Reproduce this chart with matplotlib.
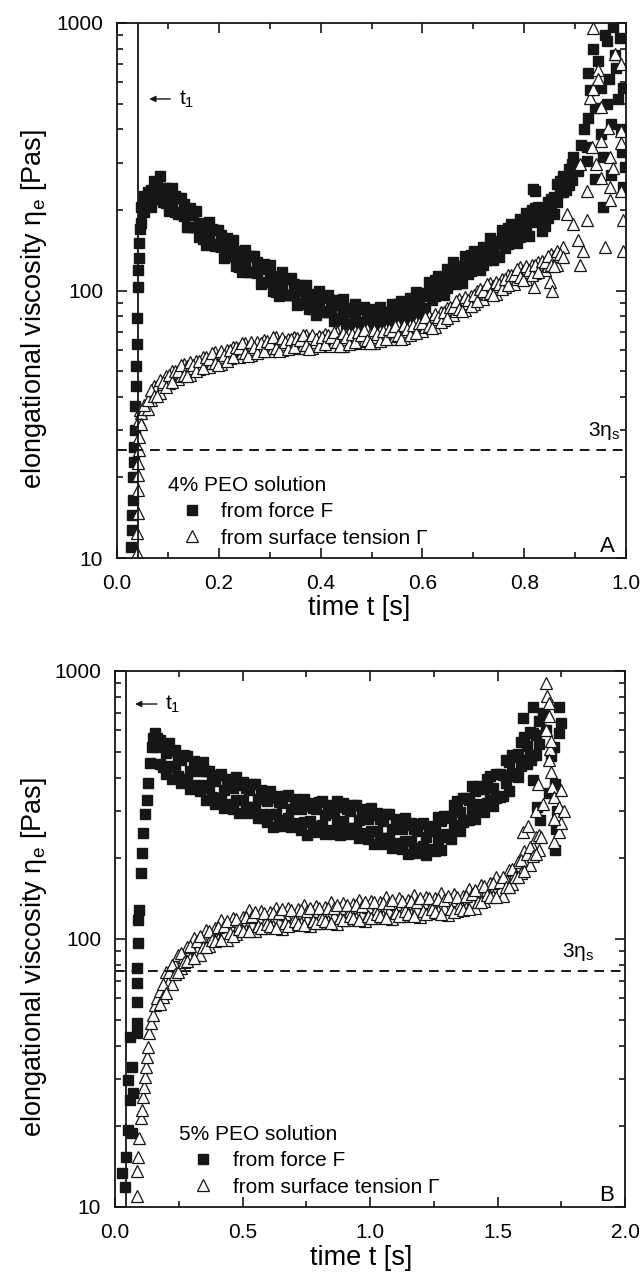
import matplotlib
matplotlib.use("Agg")
import matplotlib.pyplot as plt
from matplotlib.ticker import LogLocator, NullFormatter, MultipleLocator, FormatStrFormatter
import numpy as np

plt.rcParams['font.family'] = ['Liberation Sans', 'DejaVu Sans']
plt.rcParams['mathtext.fontset'] = 'custom'
plt.rcParams['mathtext.rm'] = 'Liberation Sans'
plt.rcParams['mathtext.it'] = 'Liberation Sans:italic'

# ================= panel A : 4% PEO solution =================
# steep rise right at t1
a_sq_rise_t = [0.028, 0.029, 0.030, 0.031, 0.032, 0.033, 0.034, 0.035, 0.036, 0.037,
               0.038, 0.039, 0.040, 0.041, 0.042, 0.043, 0.044, 0.045]
a_sq_rise_v = [11, 12.7, 14.5, 16.5, 20, 22.8, 26, 30, 37, 44,
               52, 63, 79, 103, 119, 132, 150, 170]
a_tri_rise_t = [0.040, 0.040, 0.041, 0.041, 0.042, 0.042, 0.043, 0.043, 0.044, 0.045]
a_tri_rise_v = [10.4, 12.4, 14.7, 17.9, 20.5, 22.6, 25.4, 28.3, 32.7, 35.6]

# frame times of the main part of the record
a_frames = [0.048, 0.054, 0.060, 0.066, 0.072, 0.078, 0.084, 0.090, 0.096, 0.102,
            0.108, 0.114, 0.120, 0.126, 0.132, 0.138, 0.144, 0.150, 0.156, 0.162,
            0.168, 0.174, 0.180, 0.186, 0.192, 0.198, 0.204, 0.210, 0.216, 0.222,
            0.228, 0.234, 0.240, 0.246, 0.252, 0.258, 0.264, 0.270, 0.276, 0.282,
            0.288, 0.294, 0.300, 0.306, 0.312, 0.318, 0.324, 0.330, 0.336, 0.342,
            0.348, 0.354, 0.360, 0.366, 0.372, 0.378, 0.384, 0.390, 0.396, 0.402,
            0.408, 0.414, 0.420, 0.426, 0.432, 0.438, 0.444, 0.450, 0.456, 0.462,
            0.468, 0.474, 0.480, 0.486, 0.492, 0.498, 0.504, 0.510, 0.516, 0.522,
            0.528, 0.534, 0.540, 0.546, 0.552, 0.558, 0.564, 0.570, 0.576, 0.582,
            0.588, 0.594, 0.600, 0.606, 0.612, 0.618, 0.624, 0.630, 0.636, 0.642,
            0.648, 0.654, 0.660, 0.666, 0.672, 0.678, 0.684, 0.690, 0.696, 0.702,
            0.708, 0.714, 0.720, 0.726, 0.732, 0.738, 0.744, 0.750, 0.756, 0.762,
            0.768, 0.774, 0.780, 0.786, 0.792, 0.798, 0.804, 0.810, 0.816, 0.822,
            0.828, 0.834, 0.840, 0.846, 0.852, 0.858, 0.864, 0.870, 0.876, 0.882,
            0.888, 0.894]

# two readings per frame (the band is noisy and thick)
a_sq_band1 = [205, 226, 211, 205, 219, 252, 269, 241, 212, 199,
              214, 225, 222, 221, 190, 172, 173, 191, 199, 177,
              156, 148, 160, 170, 168, 168, 146, 132, 134, 148,
              155, 139, 122, 117, 125, 134, 134, 134, 116, 106,
              108, 120, 125, 112, 99, 95, 103, 110, 110, 111,
              96, 88, 89, 100, 105, 95, 85, 81, 88, 94,
              95, 96, 83, 77, 78, 88, 93, 84, 75, 72,
              79, 85, 86, 87, 76, 70, 73, 82, 87, 80,
              73, 71, 78, 86, 89, 91, 81, 77, 80, 91,
              99, 92, 86, 85, 95, 105, 109, 113, 102, 96,
              102, 118, 128, 118, 109, 107, 120, 131, 136, 141,
              126, 119, 125, 144, 157, 146, 134, 133, 149, 164,
              171, 177, 159, 150, 158, 181, 195, 180, 198, 235,
              181, 191, 200, 215, 199, 194, 214, 257, 269, 265,
              248, 258]
a_sq_band2 = [179, 197, 233, 237, 257, 228, 233, 215, 242, 228,
              242, 197, 194, 193, 210, 199, 203, 173, 173, 158,
              179, 169, 181, 149, 147, 147, 161, 153, 157, 134,
              134, 124, 140, 134, 142, 117, 117, 117, 128, 123,
              126, 108, 109, 100, 113, 109, 117, 96, 96, 96.5,
              106, 101, 105, 90, 91, 85, 97, 93, 100, 83,
              83, 84, 92, 88, 92, 79, 81, 75, 86, 83,
              89, 74, 75, 76, 84, 81, 85, 74, 76, 71,
              83, 81, 89, 75, 77, 80, 90, 88, 94, 83,
              86, 82, 98, 97, 108, 92, 95, 99, 112, 111,
              120, 106, 111, 106, 124, 122, 135, 115, 118, 123,
              139, 137, 146, 130, 136, 130, 153, 152, 169, 144,
              149, 155, 175, 174, 185, 163, 169, 160, 200, 204,
              205, 167, 174, 187, 219, 224, 251, 233, 233, 237,
              284, 296]

a_tri_band1 = [34.7, 36, 36.1, 38.8, 44, 43.9, 41.4, 44.6, 47.8, 45.1,
               49.9, 48, 46.6, 48, 53, 52, 48.4, 51.5, 54.6, 50.9,
               56.2, 54, 51.8, 53.4, 58.8, 57.1, 53.1, 56.4, 59.8, 55.7,
               61.4, 59, 56.5, 58.2, 63.6, 61.7, 57.3, 60.4, 64, 59.5,
               65.1, 62.5, 59.4, 61.1, 66.8, 64.3, 59.7, 62.9, 66, 61.4,
               67.2, 64, 60.8, 62.6, 68.4, 65.8, 61.1, 64.4, 67.6, 62.4,
               68.8, 65.5, 62.2, 64, 70, 67.3, 62, 65.8, 69.2, 63.8,
               70.4, 67, 63.7, 65, 71.6, 68.9, 63.9, 67.3, 70.7, 65.8,
               71.9, 69, 65.6, 67.4, 74.2, 71.4, 66.3, 70.3, 74.4, 69.1,
               76.1, 73, 70.3, 72.8, 80.6, 78.5, 73.3, 78.2, 83.2, 77.8,
               86.1, 83.5, 80.8, 83.9, 93.3, 90.8, 84.6, 90.1, 95.7, 89.3,
               99.8, 97, 93.1, 97, 107, 104, 96.8, 104, 110, 103,
               114, 110, 106, 110, 122, 118, 110, 117, 125, 116,
               128, 124, 119, 123, 137, 134, 125, 135, 146]
a_tri_band2 = [31.7, 37.4, 38.8, 42.4, 40.3, 40.4, 46.2, 45.5, 43.7, 48.4,
               45.6, 49.9, 50, 52.5, 48.5, 47.9, 54.1, 52.5, 49.9, 54.6,
               51.4, 56.2, 55.6, 58.3, 53.8, 52.6, 59.3, 57.6, 54.6, 59.7,
               56.2, 61.4, 60.7, 63.6, 58.2, 56.9, 64, 61.6, 58.4, 63.9,
               59.5, 65, 63.8, 66.8, 61.1, 59.2, 66.7, 64.1, 60.3, 65.9,
               61.4, 66.6, 65.3, 68.4, 62.6, 60.6, 68.3, 65.7, 61.8, 67,
               62.9, 68.1, 66.8, 70, 64, 62, 69.3, 67.2, 63.2, 68.5,
               64.3, 69.7, 68.3, 71, 65.5, 63.5, 71.4, 68.7, 64.6, 70.6,
               65.8, 71.8, 70.4, 73.7, 67.9, 65.8, 74, 71.7, 67.9, 74.2,
               69.6, 75.9, 75.5, 79.5, 73.7, 72.4, 81.9, 79.8, 76, 83.4,
               78.7, 86.8, 86.7, 91.7, 85.4, 83.7, 94.5, 91.9, 87.4, 95.8,
               91.2, 101, 100, 106, 98, 95.9, 108, 106, 101, 110,
               105, 114, 114, 120, 112, 109, 123, 119, 114, 125,
               117, 129, 128, 135, 125, 123, 140, 137, 133]

# scattered end of the record (filament break-up)
a_sq_tail_t = [0.818, 0.895, 0.905, 0.912, 0.918, 0.923, 0.923, 0.925, 0.925, 0.930,
               0.935, 0.940, 0.945, 0.950, 0.950, 0.955, 0.955, 0.958, 0.962, 0.962,
               0.966, 0.970, 0.975, 0.978, 0.980, 0.985, 0.988, 0.990, 0.995, 0.995,
               0.998, 0.992, 0.970, 0.940]
a_sq_tail_v = [240, 315, 280, 350, 400, 305, 345, 440, 650, 560,
               800, 480, 720, 570, 385, 315, 205, 900, 860, 500,
               620, 420, 970, 760, 680, 520, 880, 400, 570, 243,
               290, 330, 270, 260]
a_tri_tail_t = [0.820, 0.850, 0.855, 0.885, 0.895, 0.905, 0.910, 0.910, 0.915, 0.923,
                0.923, 0.930, 0.933, 0.935, 0.935, 0.942, 0.945, 0.945, 0.950, 0.950,
                0.950, 0.958, 0.965, 0.968, 0.968, 0.968, 0.975, 0.978, 0.990, 0.990,
                0.990, 0.990, 0.995, 0.995]
a_tri_tail_v = [103, 108, 100, 194, 178, 154, 296, 125, 141, 236,
                183, 525, 345, 960, 565, 296, 670, 615, 485, 362,
                264, 145, 405, 315, 243, 217, 288, 765, 700, 395,
                355, 236, 183, 141]

# ================= panel B : 5% PEO solution =================
b_sq_rise_t = [0.039, 0.026, 0.045, 0.052, 0.065, 0.059, 0.072, 0.052, 0.065, 0.059,
               0.085, 0.085, 0.085, 0.085, 0.085, 0.092, 0.092, 0.094,
               0.100, 0.105, 0.110, 0.118, 0.125, 0.130, 0.137, 0.145, 0.150, 0.157,
               0.164, 0.170]
b_sq_rise_v = [11.9, 13.4, 15.4, 19.4, 18.9, 25, 26.6, 29.8, 33.3, 43,
               44.6, 48.6, 58, 68.6, 78, 96.6, 118, 128,
               176, 210, 248, 293, 330, 381, 453, 520, 560, 585,
               560, 520]
b_tri_rise_t = [0.087, 0.087, 0.090, 0.095, 0.100, 0.105, 0.108, 0.112, 0.116, 0.120,
                0.124, 0.128, 0.135, 0.142, 0.150, 0.157, 0.165]
b_tri_rise_v = [11, 13.6, 15.4, 18.1, 21.5, 23, 25.7, 28, 30.6, 33.3,
                36.3, 39.5, 44.6, 48.6, 52, 56.5, 60]

b_frames = [0.176, 0.188, 0.200, 0.212, 0.224, 0.236, 0.248, 0.260, 0.272, 0.284,
            0.296, 0.308, 0.320, 0.332, 0.344, 0.356, 0.368, 0.380, 0.392, 0.404,
            0.416, 0.428, 0.440, 0.452, 0.464, 0.476, 0.488, 0.500, 0.512, 0.524,
            0.536, 0.548, 0.560, 0.572, 0.584, 0.596, 0.608, 0.620, 0.632, 0.644,
            0.656, 0.668, 0.680, 0.692, 0.704, 0.716, 0.728, 0.740, 0.752, 0.764,
            0.776, 0.788, 0.800, 0.812, 0.824, 0.836, 0.848, 0.860, 0.872, 0.884,
            0.896, 0.908, 0.920, 0.932, 0.944, 0.956, 0.968, 0.980, 0.992, 1.004,
            1.016, 1.028, 1.040, 1.052, 1.064, 1.076, 1.088, 1.100, 1.112, 1.124,
            1.136, 1.148, 1.160, 1.172, 1.184, 1.196, 1.208, 1.220, 1.232, 1.244,
            1.256, 1.268, 1.280, 1.292, 1.304, 1.316, 1.328, 1.340, 1.352, 1.364,
            1.376, 1.388, 1.400, 1.412, 1.424, 1.436, 1.448, 1.460, 1.472, 1.484,
            1.496, 1.508, 1.520, 1.532, 1.544, 1.556, 1.568, 1.580, 1.592, 1.604,
            1.616, 1.628, 1.640, 1.652, 1.664]

b_sq_band1 = [554, 437, 494, 539, 394, 437, 477, 383, 486, 395,
              424, 463, 369, 425, 458, 331, 365, 400, 320, 410,
              336, 361, 394, 315, 365, 401, 295, 330, 365, 296,
              380, 310, 333, 360, 284, 327, 357, 262, 293, 324,
              264, 342, 282, 306, 334, 265, 305, 333, 245, 276,
              308, 251, 325, 267, 289, 315, 252, 295, 327, 244,
              276, 306, 246, 317, 259, 279, 305, 243, 281, 309,
              227, 254, 281, 227, 292, 239, 257, 280, 223, 258,
              283, 208, 233, 257, 209, 269, 222, 241, 265, 215,
              254, 285, 215, 247, 282, 236, 315, 267, 298, 336,
              277, 331, 371, 280, 320, 362, 299, 394, 331, 367,
              412, 340, 410, 466, 357, 415, 477, 403, 542, 465,
              525, 594, 486, 578, 650]
b_sq_band2 = [450, 529, 414, 442, 504, 509, 407, 465, 396, 483,
              362, 376, 447, 356, 375, 424, 425, 340, 389, 335,
              411, 308, 320, 382, 306, 329, 377, 384, 311, 360,
              310, 380, 284, 292, 344, 274, 293, 336, 341, 276,
              321, 279, 345, 261, 271, 320, 255, 273, 314, 322,
              262, 305, 265, 327, 246, 256, 305, 247, 268, 312,
              322, 260, 300, 259, 317, 238, 248, 294, 236, 253,
              290, 296, 239, 276, 238, 292, 219, 228, 270, 216,
              232, 266, 271, 219, 254, 219, 271, 205, 216, 261,
              213, 234, 275, 288, 240, 287, 257, 327, 254, 273,
              336, 277, 304, 358, 373, 308, 364, 322, 405, 313,
              335, 412, 343, 382, 457, 484, 407, 490, 442, 569,
              448, 482, 589, 484, 532]

b_tri_band1 = [64, 61, 75, 70, 68, 80, 87, 78, 86, 93,
               85, 101, 91, 87, 101, 108, 94, 103, 110, 100,
               118, 105, 99, 113, 120, 104, 113, 121, 108, 128,
               114, 107, 121, 127, 110, 119, 126, 112, 131, 116,
               109, 124, 130, 113, 121, 129, 115, 134, 119, 112,
               127, 133, 115, 124, 132, 117, 137, 122, 114, 130,
               136, 118, 127, 135, 120, 140, 124, 117, 132, 139,
               120, 130, 137, 122, 143, 127, 119, 135, 142, 122,
               132, 140, 124, 146, 129, 121, 137, 144, 125, 134,
               142, 127, 148, 131, 123, 140, 147, 127, 136, 145,
               130, 154, 137, 131, 150, 159, 139, 152, 162, 145,
               171, 152, 145, 168, 181, 160, 177, 193, 177, 213,
               194, 189, 220, 240, 214]
b_tri_band2 = [57, 68, 63, 75, 80, 74, 75, 89, 82, 83,
               94, 85, 98, 103, 93, 93, 107, 99, 98, 111,
               99, 112, 117, 105, 103, 119, 109, 107, 121, 107,
               122, 126, 112, 110, 125, 114, 112, 125, 110, 125,
               129, 115, 112, 128, 117, 114, 128, 113, 127, 131,
               117, 115, 131, 119, 117, 131, 115, 130, 134, 120,
               118, 134, 122, 120, 134, 118, 133, 137, 122, 120,
               137, 124, 122, 136, 120, 136, 140, 125, 122, 139,
               127, 124, 139, 122, 138, 142, 127, 124, 142, 129,
               126, 141, 124, 140, 145, 129, 126, 144, 131, 128,
               145, 129, 147, 153, 138, 137, 158, 146, 144, 162,
               143, 163, 171, 156, 156, 182, 170, 171, 197, 179,
               208, 221, 204, 207, 244]

b_sq_tail_t = [1.600, 1.640, 1.630, 1.640, 1.655, 1.667, 1.690, 1.710, 1.725, 1.725,
               1.730, 1.740, 1.740, 1.750, 1.680, 1.700, 1.735, 1.720]
b_sq_tail_v = [670, 735, 465, 393, 312, 279, 600, 480, 380, 215,
               257, 735, 585, 640, 700, 350, 300, 520]
b_tri_tail_t = [1.600, 1.620, 1.650, 1.660, 1.670, 1.680, 1.690, 1.695, 1.700, 1.700,
                1.705, 1.700, 1.710, 1.710, 1.715, 1.720, 1.720, 1.730, 1.740, 1.740,
                1.750, 1.750, 1.760, 1.690, 1.720]
b_tri_tail_v = [250, 265, 300, 380, 240, 320, 900, 810, 760, 680,
                510, 465, 550, 420, 370, 340, 230, 290, 310, 250,
                270, 360, 300, 600, 280]

eta_s3 = [25.4, 76]      # 3 x solvent viscosity, Pa s
t1 = [0.041, 0.043]      # s

n_tri_a = len(a_tri_band1)
a_sq_t = a_sq_rise_t + a_frames + a_frames + a_sq_tail_t
a_sq_v = a_sq_rise_v + a_sq_band1 + a_sq_band2 + a_sq_tail_v
a_tri_t = a_tri_rise_t + a_frames[:n_tri_a] + a_frames[:n_tri_a] + a_tri_tail_t
a_tri_v = a_tri_rise_v + a_tri_band1 + a_tri_band2 + a_tri_tail_v
b_sq_t = b_sq_rise_t + b_frames + b_frames + b_sq_tail_t
b_sq_v = b_sq_rise_v + b_sq_band1 + b_sq_band2 + b_sq_tail_v
b_tri_t = b_tri_rise_t + b_frames + b_frames + b_tri_tail_t
b_tri_v = b_tri_rise_v + b_tri_band1 + b_tri_band2 + b_tri_tail_v

fig = plt.figure(figsize=(6.44, 12.86), dpi=100)
ax_a = fig.add_axes([117 / 644, 1 - 558 / 1286, 509 / 644, 535 / 1286])
ax_b = fig.add_axes([115 / 644, 1 - 1207 / 1286, 510 / 644, 536 / 1286])

panels = [
    (ax_a, a_sq_t, a_sq_v, a_tri_t, a_tri_v, 1.0, 0.2, 0.1, "4% PEO solution", "A",
     0.079, (0.475, -0.069), (-0.133, 0.465)),
    (ax_b, b_sq_t, b_sq_v, b_tri_t, b_tri_v, 2.0, 0.5, 0.25, "5% PEO solution", "B",
     0.106, (0.482, -0.071), (-0.129, 0.466)),
]

for i, (ax, st, sv, tt, tv, xmax, major, minor, title, letter, legx, xlab, ylab) in enumerate(panels):
    ax.plot(st, sv, ls="none", marker="s", ms=7, color="#161616", mec="#161616",
            label="from force F")
    ax.plot(tt, tv, ls="none", marker="^", ms=8, mfc="white", mec="#161616", mew=0.9,
            label="from surface tension \u0393")
    ax.axvline(t1[i], color="#161616", lw=1.3)
    ax.axhline(eta_s3[i], color="#161616", lw=1.4, ls=(0, (5, 3.5)))

    ax.set_yscale("log")
    ax.set_xlim(0, xmax)
    ax.set_ylim(10, 1000)
    ax.set_yticks([10, 100, 1000])
    ax.set_yticklabels(["10", "100", "1000"])
    ax.yaxis.set_minor_locator(LogLocator(base=10, subs=np.arange(2, 10)))
    ax.yaxis.set_minor_formatter(NullFormatter())
    ax.xaxis.set_major_locator(MultipleLocator(major))
    ax.xaxis.set_minor_locator(MultipleLocator(minor))
    ax.xaxis.set_major_formatter(FormatStrFormatter("%.1f"))
    ax.tick_params(which="both", direction="in", top=True, right=True,
                   labelsize=15, width=1.2, color="#161616")
    ax.tick_params(axis="x", pad=11.5)
    ax.tick_params(axis="y", pad=10)
    ax.tick_params(which="major", length=7)
    ax.tick_params(which="minor", length=4)
    for s in ax.spines.values():
        s.set_linewidth(1.3)
        s.set_color("#161616")

    ax.set_xlabel("time t [s]", fontsize=19.5)
    ax.set_ylabel("elongational viscosity \u03b7$_\\mathregular{e}$ [Pas]", fontsize=19.5)
    ax.xaxis.set_label_coords(*xlab)
    ax.yaxis.set_label_coords(*ylab)

    leg = ax.legend(loc="lower left", bbox_to_anchor=(legx, 0.0), frameon=False,
                    title=title, title_fontsize=15, fontsize=15, numpoints=1,
                    handlelength=2.3, handletextpad=0.25, labelspacing=0.35,
                    borderpad=0.0, alignment="left")
    leg.legend_handles[0].set_markersize(6.5)

    ax.text(0.963 * xmax, 11.0, letter, fontsize=16, ha="center", va="center")

    ax.text(0.925 * xmax if i == 0 else 0.876 * xmax, eta_s3[i] * 1.07,
            "3\u03b7$_\\mathregular{s}$", fontsize=15, ha="left", va="bottom")

# t1 arrows
ax_a.annotate("", xy=(0.058, 520), xytext=(0.11, 520),
              arrowprops=dict(arrowstyle="-|>", color="#161616", lw=1, mutation_scale=9))
ax_a.text(0.122, 520, "t$_\\mathregular{1}$", fontsize=15, va="center")
ax_b.annotate("", xy=(0.068, 753), xytext=(0.175, 753),
              arrowprops=dict(arrowstyle="-|>", color="#161616", lw=1, mutation_scale=9))
ax_b.text(0.195, 753, "t$_\\mathregular{1}$", fontsize=15, va="center")

fig.savefig("out.png", dpi=100)
